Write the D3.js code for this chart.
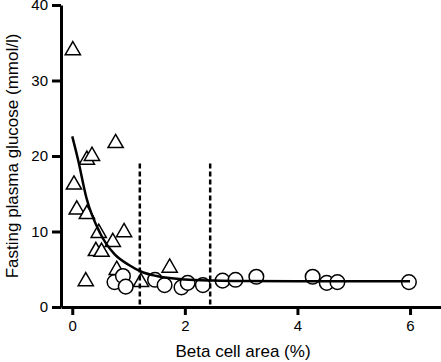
<!DOCTYPE html>
<html>
<head>
<meta charset="utf-8">
<title>Beta cell area vs glucose</title>
<style>
  body { margin: 0; background: #fff; }
  text { font-family: Arial, "Liberation Sans", sans-serif; }
</style>
</head>
<body>
<script src="https://d3js.org/d3.v7.min.js"></script>
<script>
// triangles
const triX = [0.01, 0.26, 0.35, 0.77, 0.03, 0.08, 0.26, 0.47, 0.92, 0.72, 0.42, 0.52, 0.24, 0.79, 1.22, 1.73];
const triY = [34.0, 19.5, 20.0, 21.7, 16.2, 12.9, 12.3, 9.8, 9.9, 8.6, 7.4, 7.3, 3.4, 4.9, 3.3, 5.2];
// circles
const cirX = [0.75, 0.9, 0.95, 1.47, 1.64, 1.94, 2.05, 2.32, 2.67, 2.9, 3.27, 4.27, 4.52, 4.71, 5.98];
const cirY = [3.3, 4.1, 2.7, 3.6, 2.9, 2.6, 3.2, 2.9, 3.5, 3.6, 4.0, 4.0, 3.2, 3.3, 3.3];
// fitted curve
const fitX = [0, 0.1, 0.25, 0.5, 0.75, 1, 1.25, 1.5, 2, 2.5, 3, 4, 5, 6];
const fitY = [22.6, 19.6, 14.5, 9.7, 7.0, 5.6, 4.6, 4.1, 3.65, 3.5, 3.45, 3.4, 3.4, 3.4];
// cut-offs
const cutX = [1.2, 2.45];
const cutTop = 19;

const xTicks = [0, 2, 4, 6];
const yTicks = [0, 10, 20, 30, 40];

const width = 441, height = 362;

const x = d3.scaleLinear().domain([-0.2, 6.55]).range([61, 441]);
const y = d3.scaleLinear().domain([0, 40]).range([307, 5]);

const svg = d3.select("body").append("svg")
    .attr("width", width)
    .attr("height", height);

// points
const tri = d3.symbol().type(d3.symbolTriangle).size(100);
svg.append("g").selectAll("path")
    .data(triX.map((d, i) => [d, triY[i]]))
    .enter().append("path")
    .attr("d", tri)
    .attr("transform", d => "translate(" + x(d[0]) + "," + y(d[1]) + ")")
    .attr("fill", "white")
    .attr("stroke", "black")
    .attr("stroke-width", 1.5);

svg.append("g").selectAll("circle")
    .data(cirX.map((d, i) => [d, cirY[i]]))
    .enter().append("circle")
    .attr("cx", d => x(d[0]))
    .attr("cy", d => y(d[1]))
    .attr("r", 7.3)
    .attr("fill", "white")
    .attr("stroke", "black")
    .attr("stroke-width", 1.5);

// curve
const line = d3.line()
    .x(d => x(d[0]))
    .y(d => y(d[1]))
    .curve(d3.curveMonotoneX);
svg.append("path")
    .datum(fitX.map((d, i) => [d, fitY[i]]))
    .attr("d", line)
    .attr("fill", "none")
    .attr("stroke", "black")
    .attr("stroke-width", 2.5);

// dashed cut-offs
svg.append("g").selectAll("line")
    .data(cutX)
    .enter().append("line")
    .attr("x1", d => x(d)).attr("x2", d => x(d))
    .attr("y1", y(cutTop)).attr("y2", y(0))
    .attr("stroke", "black")
    .attr("stroke-width", 2.5)
    .attr("stroke-dasharray", "5,3");

// axes
const xAxis = svg.append("g")
    .attr("transform", "translate(0," + y(0) + ")")
    .call(d3.axisBottom(x).tickValues(xTicks).tickFormat(d3.format("d"))
        .tickSize(8).tickSizeOuter(0).tickPadding(5));

const yAxis = svg.append("g")
    .attr("transform", "translate(" + x(-0.2) + ",0)")
    .call(d3.axisLeft(y).tickValues(yTicks).tickFormat(d3.format("d"))
        .tickSize(9).tickSizeOuter(0).tickPadding(4));

[xAxis, yAxis].forEach(g => {
  g.select(".domain").attr("stroke-width", 3);
  g.selectAll(".tick line").attr("stroke-width", 3);
  g.selectAll(".tick text")
    .attr("font-size", 15)
    .attr("font-family", "Arial, 'Liberation Sans', sans-serif")
    .attr("fill", "black");
});

svg.append("text")
    .attr("x", 243)
    .attr("y", 357)
    .attr("text-anchor", "middle")
    .attr("font-size", 17)
    .text("Beta cell area (%)");

svg.append("text")
    .attr("transform", "translate(18,156) rotate(-90)")
    .attr("text-anchor", "middle")
    .attr("font-size", 17)
    .text("Fasting plasma glucose (mmol/l)");
</script>
</body>
</html>
